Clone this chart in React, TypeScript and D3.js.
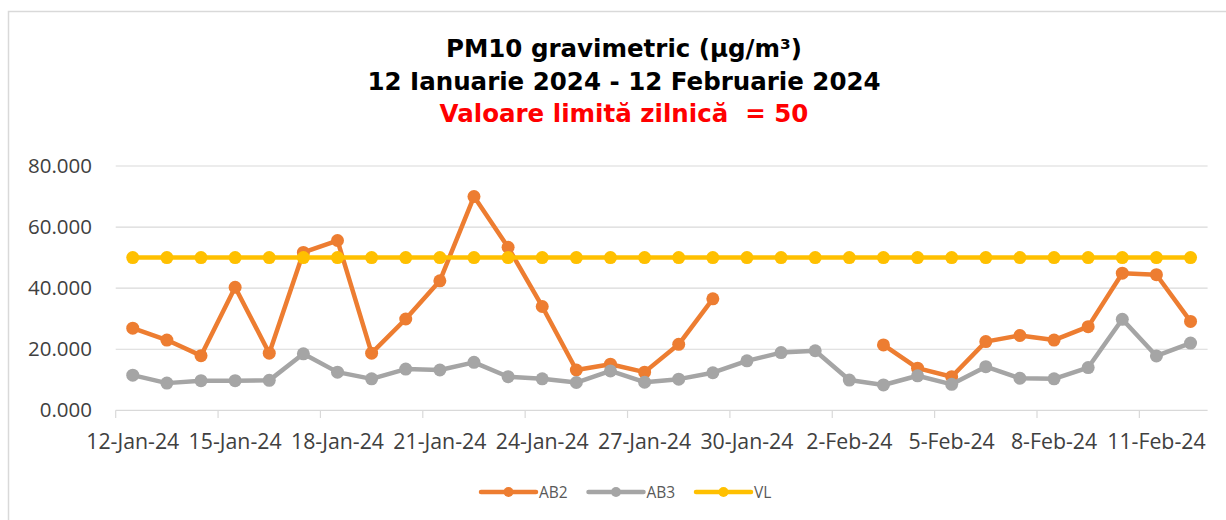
import React from 'react';
import * as d3 from 'd3';

const dates = [
  '12-Jan-24', '13-Jan-24', '14-Jan-24', '15-Jan-24', '16-Jan-24', '17-Jan-24', '18-Jan-24', '19-Jan-24',
  '20-Jan-24', '21-Jan-24', '22-Jan-24', '23-Jan-24', '24-Jan-24', '25-Jan-24', '26-Jan-24', '27-Jan-24',
  '28-Jan-24', '29-Jan-24', '30-Jan-24', '31-Jan-24', '1-Feb-24', '2-Feb-24', '3-Feb-24', '4-Feb-24',
  '5-Feb-24', '6-Feb-24', '7-Feb-24', '8-Feb-24', '9-Feb-24', '10-Feb-24', '11-Feb-24', '12-Feb-24',
];

// AB2 has no data from 30-Jan to 2-Feb
const ab2: (number | null)[] = [
  26.9, 23.0, 17.9, 40.3, 18.7, 51.7, 55.6, 18.7,
  29.9, 42.4, 70.0, 53.4, 34.0, 13.2, 15.1, 12.5,
  21.6, 36.5, null, null, null, null, 21.4, 13.8,
  11.0, 22.5, 24.5, 23.0, 27.4, 44.9, 44.4, 29.1,
];

const ab3: number[] = [
  11.5, 8.9, 9.7, 9.7, 9.8, 18.5, 12.5, 10.3,
  13.5, 13.2, 15.7, 11.0, 10.3, 9.1, 12.9, 9.2,
  10.2, 12.3, 16.2, 18.9, 19.5, 9.9, 8.3, 11.3,
  8.5, 14.3, 10.5, 10.3, 14.0, 29.8, 17.8, 22.0,
];

const vl: number[] = [
  50, 50, 50, 50, 50, 50, 50, 50,
  50, 50, 50, 50, 50, 50, 50, 50,
  50, 50, 50, 50, 50, 50, 50, 50,
  50, 50, 50, 50, 50, 50, 50, 50,
];

const xTickLabels = [
  '12-Jan-24', '15-Jan-24', '18-Jan-24', '21-Jan-24', '24-Jan-24', '27-Jan-24',
  '30-Jan-24', '2-Feb-24', '5-Feb-24', '8-Feb-24', '11-Feb-24',
];

const yTicks = [0, 20, 40, 60, 80];

const titleLines = [
  { text: 'PM10 gravimetric (µg/m³)', color: '#000000' },
  { text: '12 Ianuarie 2024 - 12 Februarie 2024', color: '#000000' },
  { text: 'Valoare limită zilnică  = 50', color: '#FF0000' },
];

const series = [
  { name: 'AB2', color: '#ED7D31', values: ab2 },
  { name: 'AB3', color: '#A5A5A5', values: ab3 },
  { name: 'VL', color: '#FFC000', values: vl },
];

const W = 1226;
const H = 520;
const plot = { left: 115.7, right: 1207.6, top: 166, bottom: 410.3 };
const axisFont = '"Open Sans", sans-serif';
const titleFont = '"DejaVu Sans", sans-serif';

export default function App() {
  const x = d3.scaleBand<string>().domain(dates).range([plot.left, plot.right]);
  const y = d3.scaleLinear().domain([0, 80]).range([plot.bottom, plot.top]);
  const cx = (d: string) => (x(d) as number) + x.bandwidth() / 2;
  const fmt = d3.format('.3f');

  const line = d3
    .line<number | null>()
    .defined(v => v != null)
    .x((_, i) => cx(dates[i]))
    .y(v => y(v as number));

  const tickIdx = dates.map((d, i) => i).filter(i => xTickLabels.includes(dates[i]));

  const legendX = 481;
  const legendStep = 107.5;

  return (
    <div style={{ position: 'absolute', left: 0, top: 0 }}>
      <svg width={W} height={H} style={{ display: 'block', background: '#fff' }}>
        <rect x={8.5} y={11.5} width={1400} height={700} fill="#fff" stroke="#D9D9D9" strokeWidth={1.5} />

        {/* title */}
        <g fontFamily={titleFont} fontWeight="bold" fontSize={24.5} textAnchor="middle">
          {titleLines.map((t, i) => (
            <text
              key={i}
              x={624}
              y={57 + i * 32.5}
              fill={t.color}
              xmlSpace="preserve"
              style={{ whiteSpace: 'pre' }}
            >
              {t.text}
            </text>
          ))}
        </g>

        {/* grid + y labels */}
        <g>
          {yTicks.map(t => (
            <g key={t}>
              <line x1={plot.left} x2={plot.right} y1={y(t)} y2={y(t)} stroke="#D9D9D9" strokeWidth={1.2} />
              <text
                x={92}
                y={y(t)}
                dy="0.35em"
                textAnchor="end"
                fontFamily={axisFont}
                fontSize={20.5}
                fill="#404040"
              >
                {fmt(t)}
              </text>
            </g>
          ))}
        </g>

        {/* x ticks */}
        <g>
          {tickIdx.map(i => (
            <g key={i}>
              <line x1={x(dates[i])} x2={x(dates[i])} y1={plot.bottom} y2={418} stroke="#D9D9D9" strokeWidth={1.2} />
              <text x={cx(dates[i])} y={449} textAnchor="middle" fontFamily={axisFont} fontSize={21.3} fill="#404040">
                {dates[i]}
              </text>
            </g>
          ))}
        </g>

        {/* series */}
        {series.map(s => (
          <g key={s.name}>
            <path d={line(s.values) || ''} fill="none" stroke={s.color} strokeWidth={4.5} strokeLinejoin="round" />
            {s.values.map((v, i) =>
              v == null ? null : <circle key={i} cx={cx(dates[i])} cy={y(v)} r={6.5} fill={s.color} />
            )}
          </g>
        ))}

        {/* legend */}
        <g fontFamily={axisFont} fontSize={15.5} fill="#595959">
          {series.map((s, i) => {
            const lx = legendX + i * legendStep;
            return (
              <g key={s.name} transform={`translate(${lx},492)`}>
                <line x1={0} x2={55} y1={0} y2={0} stroke={s.color} strokeWidth={4.5} strokeLinecap="round" />
                <circle cx={27.5} cy={0} r={5} fill={s.color} />
                <text x={58} y={5.5}>{s.name}</text>
              </g>
            );
          })}
        </g>
      </svg>
    </div>
  );
}
